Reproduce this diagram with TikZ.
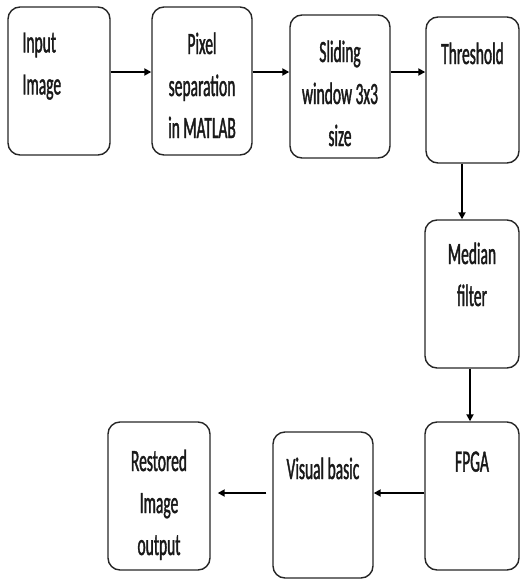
\documentclass[tikz,border=0pt]{standalone}
\usepackage{fontspec}
\setmainfont[FakeStretch=0.5,FakeBold=1.2]{Carlito}
\usetikzlibrary{arrows.meta}

\begin{document}
\begin{tikzpicture}[x=1pt,y=-1pt,
  blk/.style={draw=black!85, line width=1.4pt, rounded corners=12pt, inner sep=0pt},
  txt/.style={inner sep=0pt, align=center, font=\fontsize{31}{42}\selectfont, text=black!90},
  arr/.style={line width=1.8pt, draw=black, -{Triangle[length=7pt,width=7pt]}}]
\useasboundingbox (0,0) rectangle (522,579);

% processing blocks
\node[blk, minimum width=102pt, minimum height=148pt,
  label={[txt,name=l1,align=left,anchor=north west,xshift=15pt,yshift=-26pt]north west:{Input\\Image}}]
  (n1) at (59,81) {};
\node[blk, minimum width=100pt, minimum height=148pt,
  label={[txt,name=l2,anchor=north,yshift=-26pt]north:{Pixel\\separation\\in MATLAB}}]
  (n2) at (202,81) {};
\node[blk, minimum width=100pt, minimum height=143pt,
  label={[txt,name=l3,anchor=north,yshift=-26pt]north:{Sliding\\window 3x3\\size}}]
  (n3) at (340,86.5) {};
\node[blk, minimum width=93pt, minimum height=146pt,
  label={[txt,name=l4,anchor=north,yshift=-26pt]north:{Threshold}}]
  (n4) at (472.5,90) {};
\node[blk, minimum width=94pt, minimum height=148pt,
  label={[txt,name=l5,anchor=north,yshift=-23pt]north:{Median\\filter}}]
  (n5) at (472,294) {};
\node[blk, minimum width=94pt, minimum height=148pt,
  label={[txt,name=l6,anchor=north,yshift=-30pt]north:{FPGA}}]
  (n6) at (472,496) {};
\node[blk, minimum width=100pt, minimum height=146pt,
  label={[txt,name=l7,anchor=north,yshift=-26pt]north:{Visual basic}}]
  (n7) at (323,505) {};
\node[blk, minimum width=102pt, minimum height=148pt,
  label={[txt,name=l8,anchor=north,yshift=-28pt]north:{Restored\\Image\\output}}]
  (n8) at (159,496) {};

% connectors
\coordinate (r1) at (0,72);
\draw[arr] (n1.east |- r1) -- (n2.west |- r1);
\draw[arr] (n2.east |- r1) -- (n3.west |- r1);
\draw[arr] (n3.east |- r1) -- (n4.west |- r1);
\coordinate (c1) at (462,0);
\draw[arr] (n4.south -| c1) -- (n5.north -| c1);
\coordinate (c2) at (470,0);
\draw[arr] (n5.south -| c2) -- (n6.north -| c2);
\coordinate (r2) at (0,493);
\draw[arr] (n6.west |- r2) -- (n7.east |- r2);
\draw[arr, shorten <=6pt, shorten >=7pt] (n7.west |- r2) -- (n8.east |- r2);
\end{tikzpicture}
\end{document}
